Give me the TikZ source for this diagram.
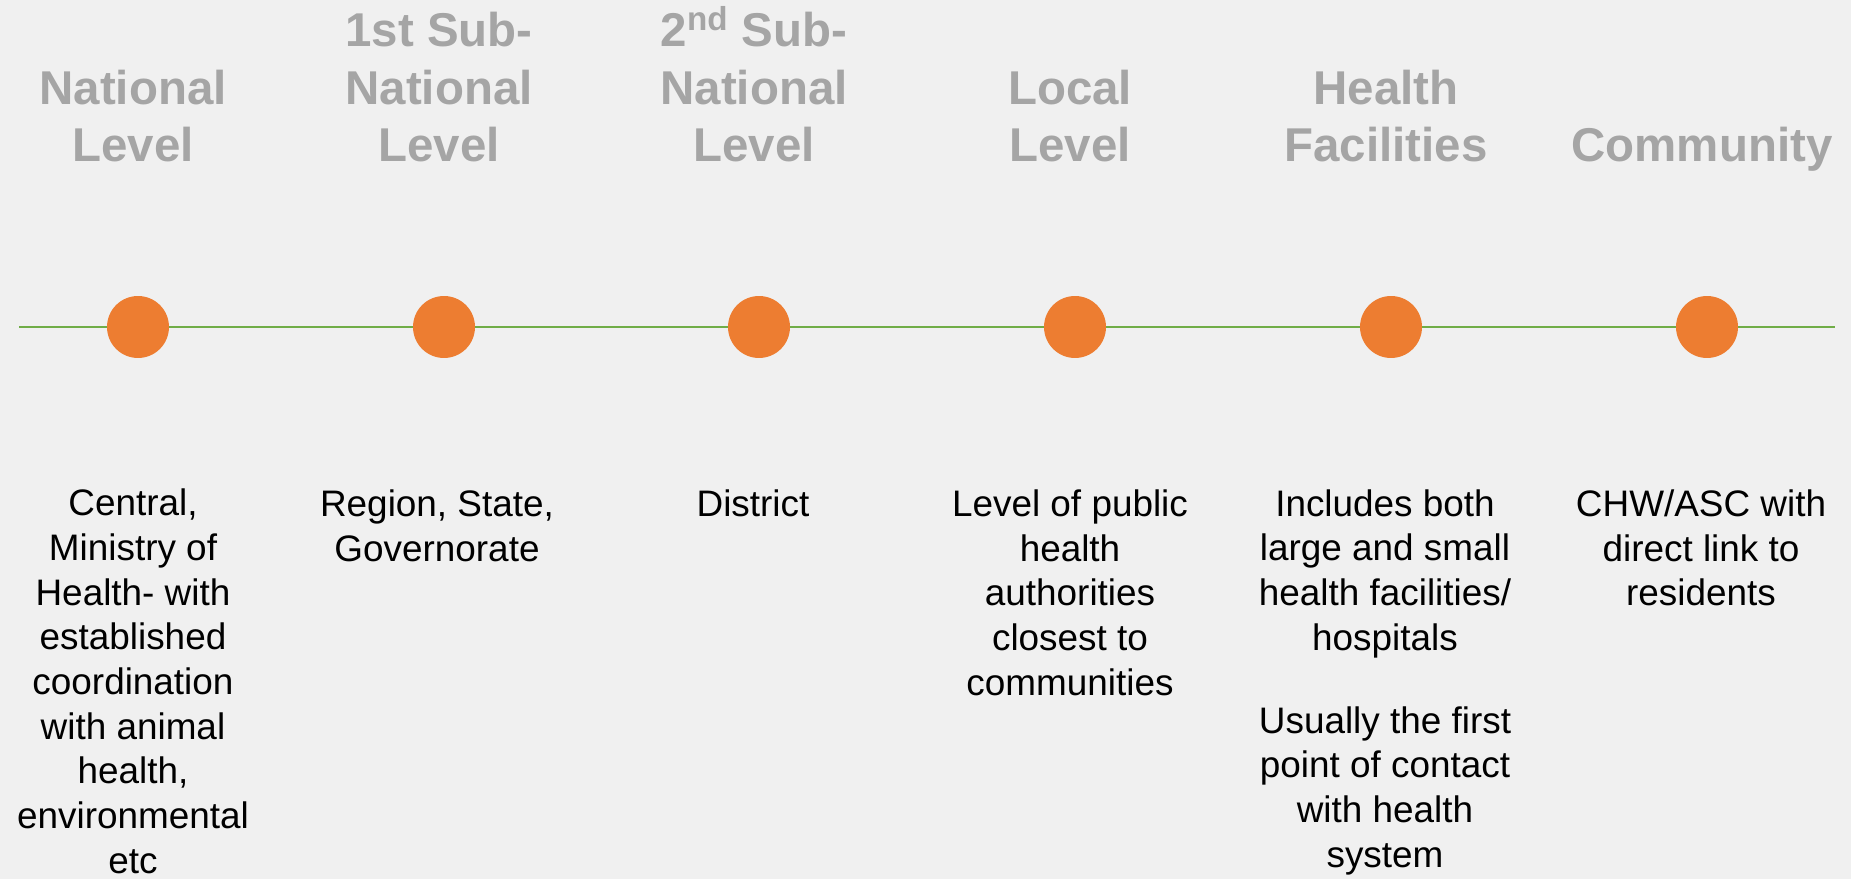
\documentclass[tikz,border=0pt]{standalone}
\usepackage{fontspec}
\setmainfont{Liberation Sans}
\definecolor{bgcol}{HTML}{F0F0F0}
\definecolor{dotcol}{HTML}{ED7D31}
\definecolor{linecol}{HTML}{70AD47}
\definecolor{headcol}{HTML}{A5A5A5}

\begin{document}
\begin{tikzpicture}
[x=0.02cm,y=0.02cm,
 dot/.style={circle,fill=dotcol,minimum size=1.24cm,inner sep=0pt},
 head/.style={anchor=base,align=center,inner sep=0pt,text=headcol,
   font=\fontsize{27}{32.9}\selectfont\bfseries},
 info/.style={anchor=base,align=center,inner sep=0pt,
   font=\fontsize{21}{25.4}\selectfont}]
\fill[bgcol] (0,0) rectangle (1851,879);
\useasboundingbox (0,0) rectangle (1851,879);
% dots on the line
\node[dot] (c1) at (138,552) {};
\node[dot] (c2) at (444,552) {};
\node[dot] (c3) at (759,552) {};
\node[dot] (c4) at (1075,552) {};
\node[dot] (c5) at (1391,552) {};
\node[dot] (c6) at (1707,552) {};
\coordinate (lend) at (19,552);
\coordinate (rend) at (1835,552);
\foreach \from/\to in {lend/c1,c1/c2,c2/c3,c3/c4,c4/c5,c5/c6,c6/rend}
\draw[linecol,line width=1.2pt] (\from) -- (\to);
% level titles (base = last line)
\node[head] (h1) at (133,717) {National\\Level};
\node[head] (h2) at (439,717) {1st Sub-\\National\\Level};
\node[head] (h3) at (754,717) {2\textsuperscript{nd} Sub-\\National\\Level};
\node[head] (h4) at (1070,717) {Local\\Level};
\node[head] (h5) at (1386,717) {Health\\Facilities};
\node[head] (h6) at (1702,717) {Community};
% what each level covers
\node[info] (t1) at (133,6) {Central,\\Ministry of\\Health- with\\established\\coordination\\with animal\\health,\\environmental\\etc};
\node[info] (t2) at (437,317.7) {Region, State,\\Governorate};
\node[info] (t3) at (753,362.3) {District};
\node[info] (t4) at (1070,183.9) {Level of public\\health\\authorities\\closest to\\communities};
\node[info] (t5) at (1385,12) {Includes both\\large and small\\health facilities/\\hospitals\\[21.9pt]Usually the first\\point of contact\\with health\\system};
\node[info] (t6) at (1701,273.1) {CHW/ASC with\\direct link to\\residents};
\end{tikzpicture}
\end{document}
